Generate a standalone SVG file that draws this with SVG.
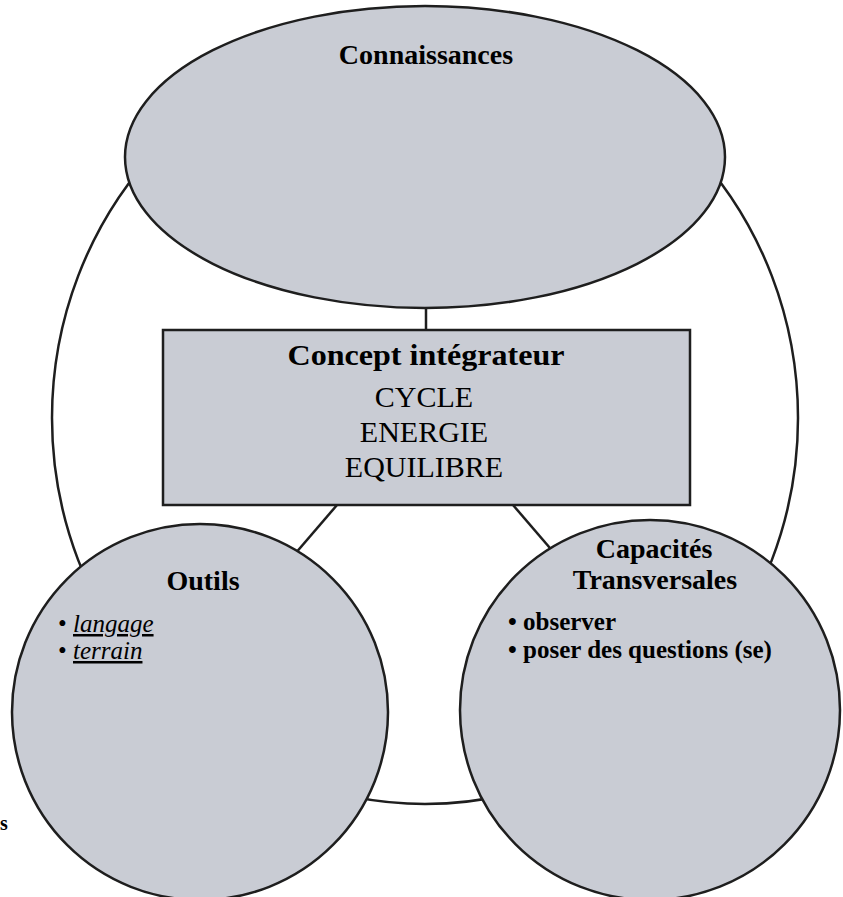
<svg xmlns="http://www.w3.org/2000/svg" width="843" height="897" viewBox="0 0 843 897">
<style>
.shape{fill:#c9ccd4;stroke:#1e1e1e;stroke-width:2.5}
.conn{fill:none;stroke:#1e1e1e;stroke-width:2.5}
.t{font-family:"Liberation Serif","Times New Roman",serif;fill:#000}
.b{font-weight:bold}
.c{text-anchor:middle}
.u{text-decoration:underline;font-style:italic}
</style>
<rect width="843" height="897" fill="#fff"/>
<g id="connectors">
<ellipse class="conn" cx="425" cy="418" rx="373" ry="386"/>
<line class="conn" x1="426" y1="300" x2="426" y2="331"/>
<line class="conn" x1="337" y1="505" x2="270" y2="583"/>
<line class="conn" x1="513" y1="505" x2="580" y2="583"/>
</g>
<g id="connaissances">
<ellipse class="shape" cx="425" cy="157" rx="300" ry="151"/>
<text class="t b c" x="426" y="64" font-size="28">Connaissances</text>
</g>
<g id="concept">
<rect class="shape" x="163" y="330" width="527" height="175"/>
<text class="t b c" x="426" y="365" font-size="30" textLength="277" lengthAdjust="spacingAndGlyphs">Concept intégrateur</text>
<text class="t c" x="424" y="407" font-size="30">CYCLE</text>
<text class="t c" x="424" y="442" font-size="30">ENERGIE</text>
<text class="t c" x="424" y="477" font-size="30">EQUILIBRE</text>
</g>
<g id="outils">
<circle class="shape" cx="200" cy="712" r="188"/>
<text class="t b c" x="203" y="590" font-size="28">Outils</text>
<text class="t" x="58" y="632" font-size="25">• <tspan class="u">langage</tspan></text>
<text class="t" x="58" y="659" font-size="25">• <tspan class="u">terrain</tspan></text>
</g>
<g id="capacites">
<circle class="shape" cx="650" cy="710" r="190"/>
<text class="t b c" x="654" y="558" font-size="28">Capacités</text>
<text class="t b c" x="655" y="589" font-size="28">Transversales</text>
<text class="t b" x="508" y="630" font-size="25">• observer</text>
<text class="t b" x="508" y="658" font-size="25">• poser des questions (se)</text>
</g>
<g id="fragment">
<text class="t b" x="0" y="830" font-size="20">s</text>
</g>
</svg>
